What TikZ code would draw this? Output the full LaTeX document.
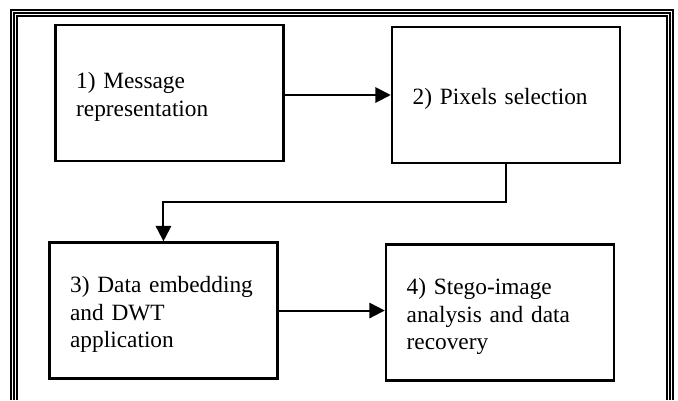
\documentclass[tikz,border=0pt]{standalone}
\usepackage{fontspec}
\setmainfont{Liberation Serif}
\usepackage{tikz}
\usetikzlibrary{arrows.meta,positioning}

\begin{document}
\begin{tikzpicture}[node distance=79.5pt, >={Triangle[length=11.5pt,width=11.5pt]}]
  \tikzset{
    stage/.style = {rectangle, draw, line width=1.9pt, minimum width=171pt, minimum height=102pt,
                    text width=140pt, inner xsep=15.5pt, align=left, text height=18pt,
                    font=\fontsize{17.5}{20.5}\selectfont},
    flow/.style = {->, line width=1.5pt}
  }
  \useasboundingbox (0,0) rectangle (508.5pt,-300pt);

  % triple frame, open at the bottom
  \foreach \d in {0,2.25,4.5}
    \draw[line width=0.9pt] ({8.25pt+\d*1pt},-300pt) |- ({504.75pt-\d*1pt},{-7.5pt-\d*1pt}) -- ({504.75pt-\d*1pt},-300pt);

  \node[stage] (msg) at (127.1pt,-69.75pt) {1) Message\\representation};
  \node[stage] (pix) [right=of msg, yshift=-1.5pt] {2) Pixels selection};
  \node[stage] (emb) [below=59.25pt of msg, xshift=-4.5pt] {3) Data embedding\\and DWT\\application};
  \node[stage] (rec) [right=of emb, yshift=-1.5pt] {4) Stego-image\\analysis and data\\recovery};

  \draw[flow] (pix.west -| msg.east) -- (pix.west);
  \draw[flow] (pix.south) -- ++(0,-28.5pt) -| (emb.north);
  \draw[flow] (emb.east) -- (emb.east -| rec.west);
\end{tikzpicture}
\end{document}
